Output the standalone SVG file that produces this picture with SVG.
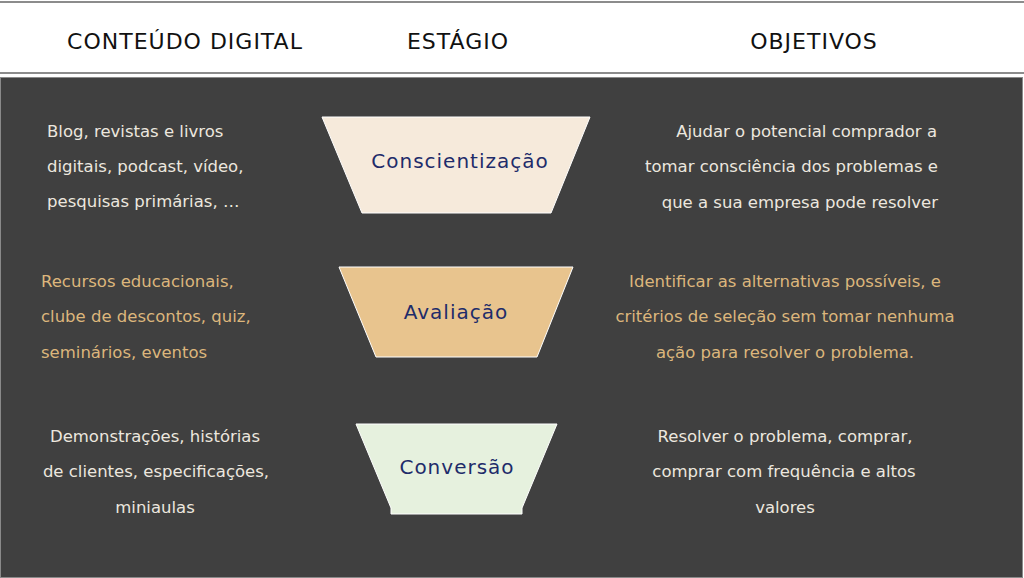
<svg xmlns="http://www.w3.org/2000/svg" width="1024" height="578" viewBox="0 0 1024 578">
<style>
.hdr{font-family:"DejaVu Sans","Liberation Sans",sans-serif;font-size:22px;letter-spacing:1px;fill:#111;text-anchor:middle}
.body{font-family:"DejaVu Sans","Liberation Sans",sans-serif;font-size:16.5px}
.light{fill:#ece7df}
.tan{fill:#dcb67c}
.stage{font-family:"DejaVu Sans","Liberation Sans",sans-serif;font-size:20px;letter-spacing:1px;fill:#1e2c6a;text-anchor:middle}
.trap{stroke:#ffffff;stroke-width:1}
</style>
<rect x="0" y="0" width="1024" height="578" fill="#ffffff"/>
<line x1="0" y1="2" x2="1024" y2="2" stroke="#666666" stroke-width="1.5"/>
<line x1="0" y1="73" x2="1024" y2="73" stroke="#666666" stroke-width="1.5"/>
<rect x="0.5" y="77.5" width="1022" height="500" fill="#404040" stroke="#8a8a8a" stroke-width="1"/>

<g id="header">
<text class="hdr" x="185" y="49">CONTEÚDO DIGITAL</text>
<text class="hdr" x="458" y="49">ESTÁGIO</text>
<text class="hdr" x="814" y="49">OBJETIVOS</text>
</g>

<g id="stage-conscientizacao">
<polygon class="trap" points="322,117 590,117 551,213 362,213" fill="#f6eadb"/>
<text class="stage" x="460" y="168">Conscientização</text>
</g>
<g id="stage-avaliacao">
<polygon class="trap" points="339,267 573,267 537,357 376,357" fill="#e8c48e"/>
<text class="stage" x="456" y="319">Avaliação</text>
</g>
<g id="stage-conversao">
<polygon class="trap" points="356,424 557,424 522,508 522,514 391,514 391,508" fill="#e6f1de"/>
<text class="stage" x="457" y="474">Conversão</text>
</g>

<g id="content-1" class="body light">
<text x="47" y="137">Blog, revistas e livros</text>
<text x="47" y="172">digitais, podcast, vídeo,</text>
<text x="47" y="207">pesquisas primárias, …</text>
</g>
<g id="content-2" class="body tan">
<text x="41" y="287">Recursos educacionais,</text>
<text x="41" y="322">clube de descontos, quiz,</text>
<text x="41" y="358">seminários, eventos</text>
</g>
<g id="content-3" class="body light" text-anchor="middle">
<text x="155" y="442">Demonstrações, histórias</text>
<text x="156" y="477">de clientes, especificações,</text>
<text x="155" y="513">miniaulas</text>
</g>

<g id="goal-1" class="body light" text-anchor="end">
<text x="937" y="137">Ajudar o potencial comprador a</text>
<text x="938" y="172">tomar consciência dos problemas e</text>
<text x="938" y="208">que a sua empresa pode resolver</text>
</g>
<g id="goal-2" class="body tan" text-anchor="middle">
<text x="785" y="287">Identificar as alternativas possíveis, e</text>
<text x="785" y="322">critérios de seleção sem tomar nenhuma</text>
<text x="785" y="358">ação para resolver o problema.</text>
</g>
<g id="goal-3" class="body light" text-anchor="middle">
<text x="785" y="442">Resolver o problema, comprar,</text>
<text x="784" y="477">comprar com frequência e altos</text>
<text x="785" y="513">valores</text>
</g>
<g id="connectors"></g>
</svg>
